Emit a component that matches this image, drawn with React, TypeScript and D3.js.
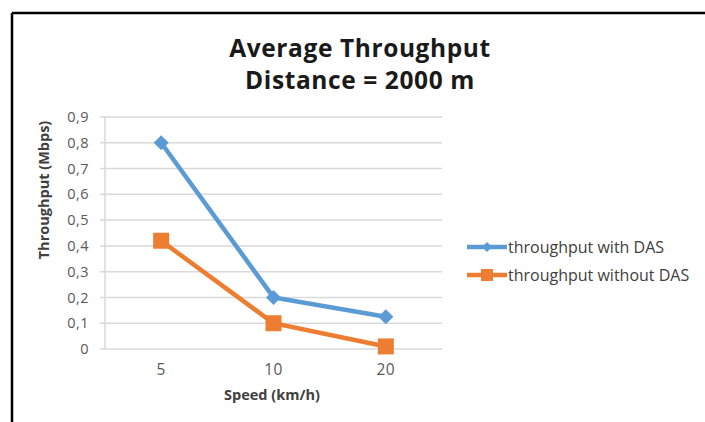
import React from "react";
import * as d3 from "d3";

// Average throughput vs. speed at a fixed distance of 2000 m
const speeds: string[] = ["5", "10", "20"];
const withDas: number[] = [0.8, 0.2, 0.125];
const withoutDas: number[] = [0.42, 0.1, 0.01];
const yTicks: number[] = [0, 0.1, 0.2, 0.3, 0.4, 0.5, 0.6, 0.7, 0.8, 0.9];
const seriesNames: string[] = ["throughput with DAS", "throughput without DAS"];
const titleLines: string[] = ["Average Throughput", "Distance = 2000 m"];

const W = 705;
const H = 422;
const plot = { left: 105, right: 442, top: 117, bottom: 349 };
const BLUE = "#5B9BD5";
const ORANGE = "#ED7D31";
const FONT = "'Open Sans', Lato, sans-serif";

export default function App() {
  const x = d3
    .scalePoint<string>()
    .domain(speeds)
    .range([plot.left, plot.right])
    .padding(0.5);
  const y = d3.scaleLinear().domain([0, 0.9]).range([plot.bottom, plot.top]);

  const line = d3
    .line<number>()
    .x((_, i) => x(speeds[i]) as number)
    .y((d) => y(d));

  const fmt = (v: number) => (v === 0 ? "0" : d3.format(".1f")(v).replace(".", ","));

  const diamond = (cx: number, cy: number, r: number) =>
    `M${cx},${cy - r}L${cx + r},${cy}L${cx},${cy + r}L${cx - r},${cy}Z`;

  const legendX0 = 467;
  const legendX1 = 507;
  const legendY = [247, 275];

  return (
    <svg
      width={W}
      height={H}
      style={{ position: "absolute", left: 0, top: 0, background: "#fff" }}
    >
      {/* frame */}
      <line x1={12} y1={13} x2={W} y2={13} stroke="#000" strokeWidth={2.5} />
      <line x1={12} y1={13} x2={12} y2={H} stroke="#000" strokeWidth={2.5} />

      {/* title */}
      {titleLines.map((t, i) => (
        <text
          key={t}
          x={360}
          y={57 + i * 32}
          textAnchor="middle"
          fontFamily={FONT}
          fontWeight="bold"
          fontSize={24.5}
          letterSpacing={0.6}
          fill="#1a1a1a"
        >
          {t}
        </text>
      ))}

      {/* gridlines and y ticks */}
      {yTicks.map((t) => (
        <g key={t}>
          <line
            x1={plot.left - 5}
            x2={plot.right}
            y1={y(t)}
            y2={y(t)}
            stroke="#d9d9d9"
            strokeWidth={1.5}
          />
          <text
            x={89}
            y={y(t)}
            dy="0.35em"
            textAnchor="end"
            fontFamily={FONT}
            fontSize={14.5}
            letterSpacing={0.5}
            fill="#595959"
          >
            {fmt(t)}
          </text>
        </g>
      ))}
      <line
        x1={plot.left}
        x2={plot.left}
        y1={plot.top}
        y2={plot.bottom}
        stroke="#d9d9d9"
        strokeWidth={1.5}
      />

      {/* x tick labels */}
      {speeds.map((s) => (
        <text
          key={s}
          x={x(s)}
          y={375}
          textAnchor="middle"
          fontFamily={FONT}
          fontSize={15.5}
          letterSpacing={0.5}
          fill="#595959"
        >
          {s}
        </text>
      ))}

      {/* axis titles */}
      <text
        x={272}
        y={400}
        textAnchor="middle"
        fontFamily={FONT}
        fontWeight="bold"
        fontSize={14.5}
        fill="#404040"
      >
        Speed (km/h)
      </text>
      <text
        transform="translate(49,190) rotate(-90)"
        textAnchor="middle"
        fontFamily={FONT}
        fontWeight="bold"
        fontSize={14.5}
        fill="#404040"
      >
        Throughput (Mbps)
      </text>

      {/* series */}
      <path d={line(withDas) || ""} fill="none" stroke={BLUE} strokeWidth={4.5} />
      <path d={line(withoutDas) || ""} fill="none" stroke={ORANGE} strokeWidth={4.5} />
      {withDas.map((v, i) => (
        <path key={"d" + i} d={diamond(x(speeds[i]) as number, y(v), 7.5)} fill={BLUE} />
      ))}
      {withoutDas.map((v, i) => (
        <rect
          key={"s" + i}
          x={(x(speeds[i]) as number) - 8}
          y={y(v) - 8}
          width={16}
          height={16}
          fill={ORANGE}
        />
      ))}

      {/* legend */}
      {seriesNames.map((name, i) => {
        const color = i === 0 ? BLUE : ORANGE;
        const cx = (legendX0 + legendX1) / 2;
        const cy = legendY[i];
        return (
          <g key={name}>
            <line
              x1={legendX0}
              x2={legendX1}
              y1={cy}
              y2={cy}
              stroke={color}
              strokeWidth={4.5}
            />
            {i === 0 ? (
              <path d={diamond(cx, cy, 5)} fill={color} />
            ) : (
              <rect x={cx - 6} y={cy - 6} width={12} height={12} fill={color} />
            )}
            <text
              x={legendX1 + 1}
              y={cy}
              dy="0.35em"
              fontFamily={FONT}
              fontSize={16}
              fill="#404040"
            >
              {name}
            </text>
          </g>
        );
      })}
    </svg>
  );
}
